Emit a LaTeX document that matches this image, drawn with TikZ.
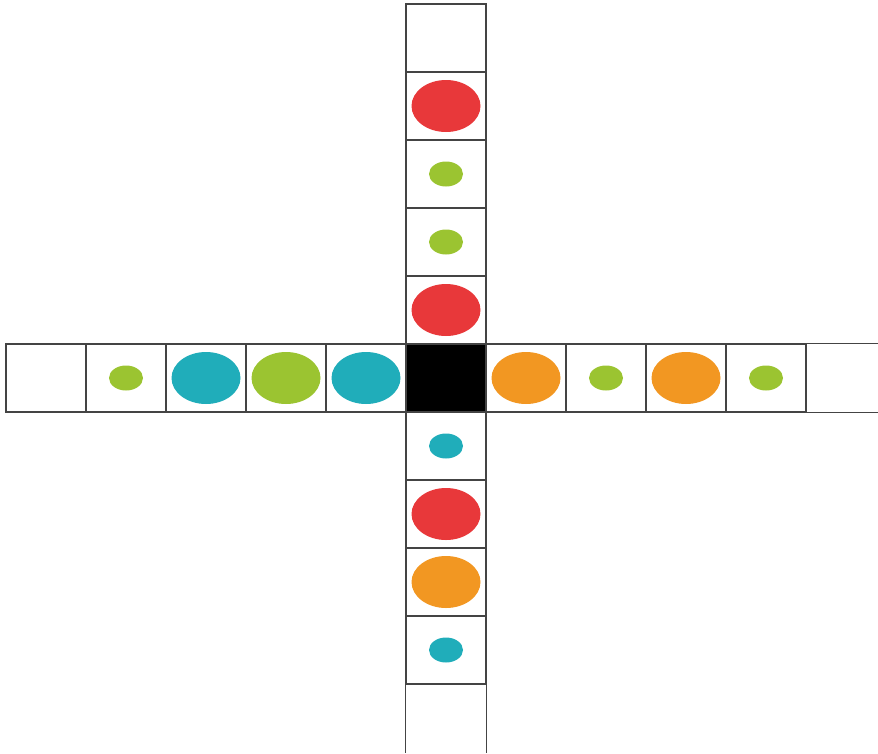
\documentclass[tikz,border=0pt]{standalone}
\usepackage{xcolor}
\usetikzlibrary{shapes.geometric}
\definecolor{gridgray}{HTML}{444444}
\definecolor{dotred}{HTML}{E8383A}
\definecolor{dotgreen}{HTML}{9BC431}
\definecolor{dotcyan}{HTML}{20ADBA}
\definecolor{dotorange}{HTML}{F29722}
\begin{document}
\begin{tikzpicture}[x=1pt,y=-1pt,
cell/.style={draw=gridgray,line width=1.4pt,minimum width=80pt,minimum height=68pt,inner sep=0pt},
big/.style={ellipse,inner sep=0pt,minimum width=69pt,minimum height=52pt},
small/.style={ellipse,inner sep=0pt,minimum width=34pt,minimum height=25pt}]
\useasboundingbox (0,0) rectangle (878,753);
% row and column of cells
\foreach \i in {0,...,9}
\node[cell](r\i) at (46+80*\i,378){};
\foreach \j in {0,...,9}
\node[cell](c\j) at (446,38+68*\j){};
\node[cell,fill=black](mid) at (446,378){};
% open ends
\coordinate (rend) at (878,378);
\coordinate (cend) at (446,753);
\draw[gridgray,line width=1.4pt](r9.north east)--(r9.north east-|rend)
(r9.south east)--(r9.south east-|rend);
\draw[gridgray,line width=1.4pt](c9.south west)--(c9.south west|-cend)
(c9.south east)--(c9.south east|-cend);
% dots
\foreach \n/\s/\c in {r1/small/dotgreen,r2/big/dotcyan,r3/big/dotgreen,r4/big/dotcyan,
r6/big/dotorange,r7/small/dotgreen,r8/big/dotorange,r9/small/dotgreen,
c1/big/dotred,c2/small/dotgreen,c3/small/dotgreen,c4/big/dotred,
c6/small/dotcyan,c7/big/dotred,c8/big/dotorange,c9/small/dotcyan}
\node[\s,fill=\c](d\n) at (\n){};
\end{tikzpicture}
\end{document}
